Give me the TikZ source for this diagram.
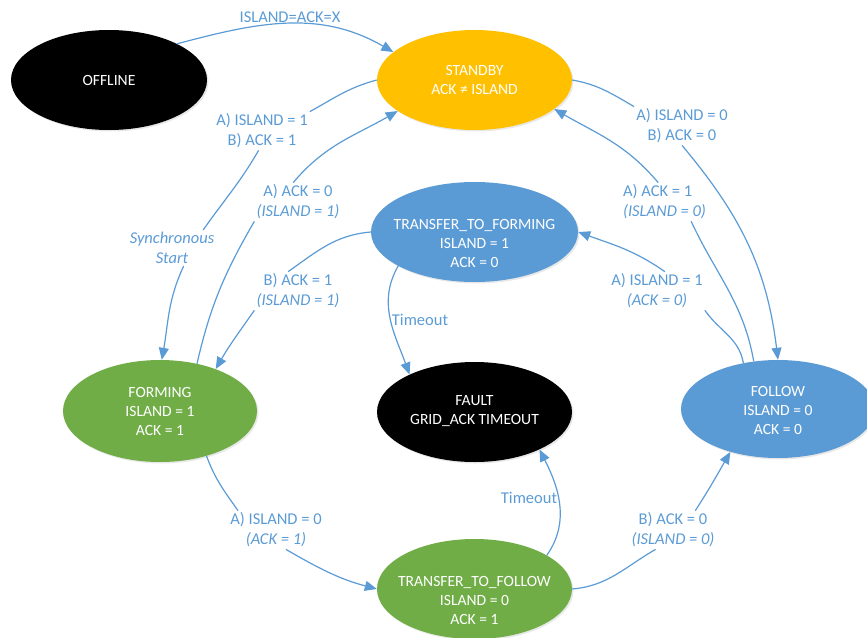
\documentclass[tikz,border=0pt]{standalone}
\usepackage{fontspec}
\setmainfont{Carlito}
\usetikzlibrary{arrows.meta,shapes.geometric,shadows}
\definecolor{cblue}{HTML}{5B9BD5}
\definecolor{cgreen}{HTML}{70AD47}
\definecolor{cgold}{HTML}{FFC000}
\begin{document}
\begin{tikzpicture}[x=1pt,y=1pt,
  state/.style={ellipse, draw=none, inner sep=0pt,
    drop shadow={shadow xshift=1.5pt,shadow yshift=-1.5pt,opacity=0.18}},
  stext/.style={text=white, font=\fontsize{15.6}{19}\selectfont, align=center, inner sep=0pt},
  elabel/.style={text=cblue, font=\fontsize{16.5}{20}\selectfont, align=center, inner sep=2pt},
  edge/.style={draw=cblue, line width=1.2pt, -{Triangle[length=12pt,width=10pt]}},
]
\useasboundingbox (0,0) rectangle (867,-637);

% states
\node[state, fill=black, minimum width=196pt, minimum height=100pt,
  label={[stext]center:OFFLINE}] (offline) at (109,-80) {};
\node[state, fill=cgold, minimum width=195pt, minimum height=100pt,
  label={[stext]center:STANDBY\\ACK ≠ ISLAND}] (standby) at (474.5,-80) {};
\node[state, fill=cblue, minimum width=207pt, minimum height=100pt,
  label={[stext,yshift=-11pt]center:TRANSFER\_TO\_FORMING\\ISLAND = 1\\ACK = 0}] (ttf) at (474.5,-232) {};
\node[state, fill=cgreen, minimum width=194pt, minimum height=102pt,
  label={[stext]center:FORMING\\ISLAND = 1\\ACK = 1}] (forming) at (160,-411) {};
\node[state, fill=black, minimum width=195pt, minimum height=100pt,
  label={[stext,yshift=1pt]center:FAULT\\GRID\_ACK TIMEOUT}] (fault) at (474.5,-412) {};
\node[state, fill=cblue, minimum width=194pt, minimum height=98pt,
  label={[stext,yshift=-1pt]center:FOLLOW\\ISLAND = 0\\ACK = 0}] (follow) at (778,-409) {};
\node[state, fill=cgreen, minimum width=195pt, minimum height=100pt,
  label={[stext,yshift=-11pt]center:TRANSFER\_TO\_FOLLOW\\ISLAND = 0\\ACK = 1}] (ttfollow) at (474.5,-589) {};

% edge labels
\node[elabel] (l1) at (290,-17) {ISLAND=ACK=X};
\node[elabel] (l2) at (262,-131) {A) ISLAND = 1\\B) ACK = 1};
\node[elabel, font=\fontsize{16.5}{20}\selectfont\itshape] (l3) at (172,-248) {Synchronous\\Start};
\node[elabel] (l4) at (298,-202) {A) ACK = 0\\\textit{(ISLAND = 1)}};
\node[elabel] (l5) at (298,-291) {B) ACK = 1\\\textit{(ISLAND = 1)}};
\node[elabel] (l6) at (420,-320) {Timeout};
\node[elabel] (l7) at (682,-126) {A) ISLAND = 0\\B) ACK = 0};
\node[elabel, align=left] (l8) at (664.5,-202) {A) ACK = 1\\\textit{(ISLAND = 0)}};
\node[elabel] (l9) at (657,-291) {A) ISLAND = 1\\\textit{(ACK = 0)}};
\node[elabel] (l10) at (276,-530) {A) ISLAND = 0\\\textit{(ACK = 1)}};
\node[elabel] (l11) at (529,-498) {Timeout};
\node[elabel] (l12) at (673,-530) {B) ACK = 0\\\textit{(ISLAND = 0)}};

% connectors
\draw[edge] (offline.28) to[out=15,in=150] (standby.161);
\draw[edge] (standby.180) to[out=195,in=29] (l2.north east)
  (l2.260) to[out=240,in=55] (l3.30)
  (l3.-57) to[out=245,in=80] (forming.88);
\draw[edge] (forming.52) to[out=77,in=240] (l4.south west)
  (l4.104) to[out=50,in=210] (standby.202);
\draw[edge] (ttf.180) to[out=185,in=35] (l5.117)
  (l5.south west) to[out=235,in=60] (forming.37);
\draw[edge] (ttf.204) to[out=240,in=110] (fault.150);
\draw[edge] (standby.0) to[out=-10,in=150] (l7.north west)
  (l7.south) to[out=-50,in=97] (follow.90);
\draw[edge] (follow.117) to[out=100,in=-65] (l8.-36)
  (l8.108) to[out=130,in=-30] (standby.-20);
\draw[edge] (follow.127) to[out=100,in=-55] (l9.south east)
  (l9.68) to[out=145,in=-20] (ttf.0);
\draw[edge] (forming.-44) to[out=-70,in=125] (l10.153)
  (l10.-63) to[out=-30,in=165] (ttfollow.180);
\draw[edge] (ttfollow.25) to[out=55,in=-63] (fault.-30);
\draw[edge] (ttfollow.0) to[out=5,in=210] (l12.228)
  (l12.41) to[out=57,in=240] (follow.222);
\end{tikzpicture}
\end{document}
